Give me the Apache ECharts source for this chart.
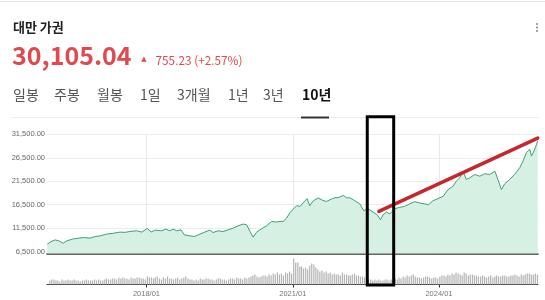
<!DOCTYPE html>
<html><head><meta charset="utf-8">
<script src="https://cdn.jsdelivr.net/npm/echarts@6/dist/echarts.min.js"></script>
<style>html,body{margin:0;padding:0;background:#fff}#c{width:545px;height:300px}</style>
</head><body><div id="c"></div>
<script>
// ---- data ----
const titleText = '대만 가권';
const priceText = '30,105.04';
const changeText = '755.23 (+2.57%)';
const tabs = ['일봉', '주봉', '월봉', '1일', '3개월', '1년', '3년', '10년'];
const activeTab = '10년';

const yTicks = [6500, 11500, 16500, 21500, 26500, 31500];
const xTicks = ['2018-01-01', '2021-01-01', '2024-01-01'];
const xRange = ['2015-12-18', '2026-01-12'];

const priceDates = [
 '2015-12-20','2016-01-17','2016-02-17','2016-03-16','2016-04-18','2016-05-13','2016-06-07','2016-07-02','2016-08-07','2016-09-16','2016-11-05','2016-12-12',
 '2017-01-19','2017-03-08','2017-04-25','2017-06-17','2017-07-24','2017-08-30','2017-10-20','2017-11-27',
 '2018-01-08','2018-02-05','2018-03-05','2018-04-24','2018-05-26','2018-06-25','2018-07-20','2018-08-15','2018-09-17','2018-10-11','2018-11-10','2018-12-25',
 '2019-01-24','2019-03-14','2019-04-20','2019-05-15','2019-06-22','2019-07-29','2019-09-05','2019-10-13','2019-11-19','2019-12-27',
 '2020-01-21','2020-02-16','2020-03-10','2020-04-05','2020-05-12','2020-06-19','2020-07-26','2020-09-02','2020-09-27','2020-10-21','2020-11-16','2020-12-11',
 '2021-01-13','2021-01-30','2021-02-25','2021-03-19','2021-04-18','2021-05-08','2021-06-02','2021-07-09','2021-08-16','2021-09-11','2021-10-18','2021-11-13','2021-12-07',
 '2022-01-14','2022-02-09','2022-03-03','2022-04-10','2022-05-17','2022-06-17','2022-07-18','2022-08-25','2022-09-25','2022-10-20','2022-11-09','2022-12-04','2022-12-29',
 '2023-02-05','2023-03-12','2023-04-19','2023-05-26','2023-07-03','2023-08-10','2023-09-17','2023-10-16','2023-11-18','2023-12-25',
 '2024-02-02','2024-03-09','2024-04-15','2024-05-10','2024-06-05','2024-06-29','2024-07-24','2024-08-19','2024-09-25','2024-11-02','2024-12-09',
 '2025-01-16','2025-02-23','2025-03-18','2025-04-13','2025-05-07','2025-06-14','2025-07-21','2025-08-28','2025-09-22','2025-10-17','2025-11-12','2025-11-24','2025-12-13',
 '2026-01-01','2026-01-10'
];
const priceValues = [
 8090,8640,9000,8790,8300,8790,9000,9220,9350,9500,9370,9710,
 9850,10230,10400,10660,10600,10790,10940,10660,
 11430,10660,11080,10940,11300,10940,11300,10940,11150,10080,9930,9710,
 10080,10660,11080,10570,10940,10790,11150,11510,12010,12370,
 12220,10790,9590,10660,11360,12010,12930,12800,12930,12930,13660,14800,
 15800,16290,16140,16870,17790,16290,17300,17940,17400,17200,17700,18000,18000,
 18470,17940,18000,17360,16720,15220,15650,14940,14360,13290,14360,14940,14520,
 15650,15930,16140,16660,17150,16870,16660,16510,17360,17790,
 18290,19720,20430,21500,22230,23640,21870,22230,22940,22570,23090,
 22940,23640,21870,19720,20940,21870,22940,24370,25790,27590,28300,26860,27930,
 29370,30105
];

// half-monthly volume (relative units), Jan 2016 .. Jan 2026
const volumeValues = [
 4,5, 5,4, 4,3, 5,4, 4,5, 4,4, 5,4, 4,3, 4,4, 5,4, 4,4, 5,4,
 5,4, 4,5, 6,5, 5,6, 6,5, 7,6, 7,6, 6,5, 7,6, 6,7, 7,6, 6,5,
 8,7, 7,6, 7,8, 6,5, 7,6, 8,6, 6,5, 6,7, 5,6, 7,8, 6,5, 5,4,
 5,4, 6,5, 5,6, 6,5, 5,4, 5,6, 6,5, 5,4, 5,6, 6,5, 7,6, 6,5,
 7,6, 7,8, 9,10, 8,7, 8,9, 9,8, 10,9, 11,10, 12,10, 11,9, 12,11, 13,11,
 26,22, 22,18, 18,16, 17,15, 19,21, 20,17, 15,13, 14,12, 13,11, 12,10, 11,10, 10,9,
 12,10, 10,9, 9,10, 11,9, 9,8, 8,7, 6,5, 5,4, 5,4, 5,4, 4,5, 5,4,
 5,6, 6,5, 7,6, 8,7, 9,8, 9,10, 8,7, 7,6, 7,8, 8,7, 6,7, 7,6,
 8,9, 9,8, 10,9, 11,10, 12,11, 10,9, 12,11, 9,10, 10,9, 9,8, 8,9, 8,7,
 8,9, 7,8, 9,8, 8,9, 9,8, 8,9, 9,10, 9,8, 10,9, 10,11, 11,10, 10,11,
 10
];
const volumeStart = [2016, 1];

// annotation (drawn by hand on the screenshot)
const trendDates = ['2022-10-08', '2026-01-10'];
const trendValues = [15070, 30700];
const boxDates = ['2022-07-13', '2023-01-27'];
const boxTopValue = 35250;

// ---- build ----
const ts = s => new Date(s + 'T00:00:00').getTime();
const volumeDates = volumeValues.map((_, i) => {
  const m0 = volumeStart[1] - 1 + Math.floor(i / 2);
  const y = volumeStart[0] + Math.floor(m0 / 12);
  const m = (m0 % 12) + 1;
  return y + '-' + String(m).padStart(2, '0') + (i % 2 ? '-23' : '-08');
});

const RED = '#e04a4f';
const fmtY = v => Number(v).toLocaleString('en-US', {minimumFractionDigits: 2, maximumFractionDigits: 2});
const fmtX = v => { const d = new Date(v); return d.getFullYear() + '/' + String(d.getMonth() + 1).padStart(2, '0'); };

const chart = echarts.init(document.getElementById('c'), null, {renderer: 'canvas'});

const tabX = [13, 54, 97, 140, 177, 228, 263, 302];
const graphics = [
  {type: 'line', shape: {x1: 0, y1: 1.5, x2: 545, y2: 1.5}, style: {stroke: '#e4e4e4', lineWidth: 1}},
  {type: 'text', style: {text: titleText, x: 13, y: 27.5, verticalAlign: 'middle', font: 'bold 13px "Noto Sans CJK KR"', fill: '#222'}},
  {type: 'text', style: {text: priceText, x: 12, y: 55, verticalAlign: 'middle', font: 'bold 25px "Noto Sans CJK KR"', fill: RED}},
  {type: 'text', style: {text: '▲', x: 144, y: 59, align: 'center', verticalAlign: 'middle', font: '7px "DejaVu Sans"', fill: RED}},
  {type: 'text', style: {text: changeText, x: 155.5, y: 60.5, verticalAlign: 'middle', font: '11.8px "Noto Sans CJK KR"', fill: RED}},
  {type: 'circle', shape: {cx: 537, cy: 24, r: 1}, style: {fill: '#888'}},
  {type: 'circle', shape: {cx: 537, cy: 27.5, r: 1}, style: {fill: '#888'}},
  {type: 'circle', shape: {cx: 537, cy: 31, r: 1}, style: {fill: '#888'}},
  {type: 'line', shape: {x1: 11, y1: 117.5, x2: 539, y2: 117.5}, style: {stroke: '#ececec', lineWidth: 1}},
  {type: 'rect', shape: {x: 301, y: 116.5, width: 28, height: 2}, style: {fill: '#333'}}
];
tabs.forEach((t, i) => {
  const active = t === activeTab;
  graphics.push({type: 'text', style: {text: t, x: tabX[i], y: 95, verticalAlign: 'middle',
    font: (active ? 'bold ' : '') + '14px "Noto Sans CJK KR"', fill: active ? '#111' : '#555'}});
});

const xTickTs = xTicks.map(ts);
chart.setOption({
  animation: false,
  grid: [
    {left: 47, right: 7, top: 134.3, bottom: 46.5},
    {left: 47, right: 7, top: 256, bottom: 15.5}
  ],
  xAxis: [
    {type: 'value', gridIndex: 0, min: ts(xRange[0]), max: ts(xRange[1]),
     axisLine: {show: true, onZero: false, lineStyle: {color: '#333', width: 1.5}},
     axisTick: {show: false, customValues: xTickTs},
     axisLabel: {show: false, customValues: xTickTs},
     splitLine: {show: true, lineStyle: {color: '#e9e9e9', width: 1}}},
    {type: 'value', gridIndex: 1, min: ts(xRange[0]), max: ts(xRange[1]),
     axisLine: {show: true, onZero: false, lineStyle: {color: '#333', width: 1}},
     axisTick: {show: true, length: 3, customValues: xTickTs, lineStyle: {color: '#333'}},
     axisLabel: {show: true, customValues: xTickTs, formatter: fmtX, fontSize: 7.5, color: '#777', margin: 5, fontFamily: 'Liberation Sans'},
     splitLine: {show: false}}
  ],
  yAxis: [
    {type: 'value', gridIndex: 0, min: 6100, max: 31500,
     axisLine: {show: false}, axisTick: {show: false, customValues: yTicks},
     axisLabel: {customValues: yTicks, formatter: fmtY, fontSize: 7.5, color: '#666', margin: 2, fontFamily: 'Liberation Sans'},
     splitLine: {show: true, lineStyle: {color: '#ececec', width: 1}}},
    {type: 'value', gridIndex: 1, min: 0, max: 28.5, show: false, splitLine: {show: false}}
  ],
  series: [
    {type: 'line', xAxisIndex: 0, yAxisIndex: 0, symbol: 'none',
     data: priceDates.map((d, i) => [ts(d), priceValues[i]]),
     lineStyle: {color: '#3f9e74', width: 1},
     areaStyle: {color: '#d6f0e3', opacity: 1, origin: 'start'}, z: 2},
    {type: 'line', xAxisIndex: 0, yAxisIndex: 0, symbol: 'none',
     data: trendDates.map((d, i) => [ts(d), trendValues[i]]),
     lineStyle: {color: '#c8262e', width: 3.5, cap: 'round'}, z: 5},
    {type: 'bar', xAxisIndex: 1, yAxisIndex: 1, barWidth: 1.2,
     data: volumeDates.map((d, i) => [ts(d), volumeValues[i]]),
     itemStyle: {color: '#b3b3b3'}}
  ],
  graphic: graphics
});

// hand-drawn box, placed through the axes
const bx0 = chart.convertToPixel({xAxisIndex: 0}, ts(boxDates[0]));
const bx1 = chart.convertToPixel({xAxisIndex: 0}, ts(boxDates[1]));
const by0 = chart.convertToPixel({yAxisIndex: 0}, boxTopValue);
const by1 = chart.convertToPixel({yAxisIndex: 1}, 0) + 0.5;
graphics.push({type: 'rect', shape: {x: bx0, y: by0, width: bx1 - bx0, height: by1 - by0},
  style: {fill: null, stroke: '#000', lineWidth: 3}, z: 100});
chart.setOption({graphic: graphics});
</script>
</body></html>
